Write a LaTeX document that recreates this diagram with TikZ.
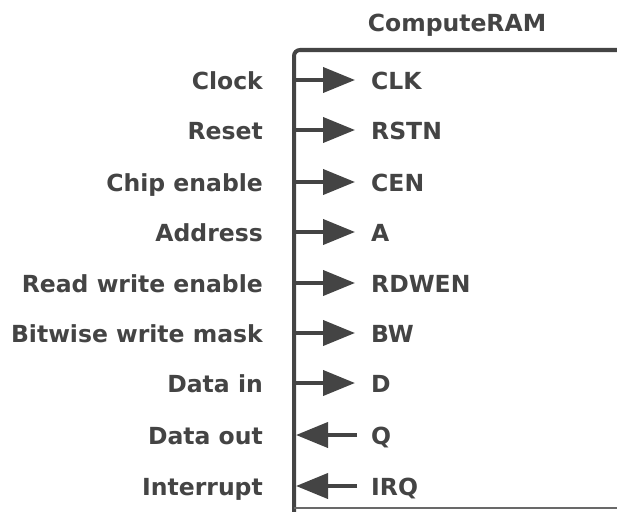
\documentclass[tikz,border=0pt]{standalone}
\usepackage{fontspec}
\setmainfont{DejaVu Sans}
\usetikzlibrary{arrows.meta}
\definecolor{ink}{HTML}{444444}
\tikzset{
  lbl/.style={font=\fontsize{23.5}{28}\selectfont\bfseries, text=ink, inner sep=0pt, anchor=base east},
  port/.style={font=\fontsize{23.5}{28}\selectfont\bfseries, text=ink, inner sep=0pt, anchor=base west},
  pin/.style={draw=ink, line width=4pt, -{Triangle[length=32pt 0,width=25pt 0]}},
  boxline/.style={draw=ink, line width=4pt, rounded corners=6pt}
}
\begin{document}
\begin{tikzpicture}[x=1pt,y=-1pt]
\useasboundingbox (0,0) rectangle (617,511);
\clip (0,0) rectangle (617,511);
\fill[white] (0,0) rectangle (617,511);
\node[port, anchor=base] (title) at (457,31) {ComputeRAM};
\draw[boxline] (294,530) -- (294,50) -- (640,50);
\draw[draw=ink!80, line width=2pt] (294,508) -- (640,508);
\foreach \n/\l/\p/\y in {clk/Clock/CLK/80, rst/Reset/RSTN/130, cen/Chip enable/CEN/182, a/Address/A/232, rw/Read write enable/RDWEN/283, bw/Bitwise write mask/BW/333, d/Data in/D/383}{
  \node[lbl] (l\n) at (263,\y+9) {\l};
  \node[port] (p\n) at (371,\y+9) {\p};
  \coordinate (e\n) at (295,\y);
  \coordinate (t\n) at (355,\y);
  \draw[pin] (e\n) -- (t\n);
}
\foreach \n/\l/\p/\y in {q/Data out/Q/435, irq/Interrupt/IRQ/486}{
  \node[lbl] (l\n) at (263,\y+9) {\l};
  \node[port] (p\n) at (371,\y+9) {\p};
  \coordinate (e\n) at (296,\y);
  \coordinate (t\n) at (357,\y);
  \draw[pin] (t\n) -- (e\n);
}
\end{tikzpicture}
\end{document}
